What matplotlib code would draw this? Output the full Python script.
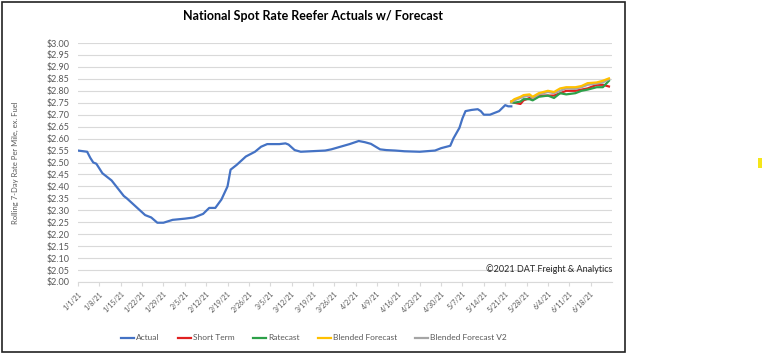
import pandas as pd
import matplotlib
matplotlib.use('Agg')
import matplotlib.pyplot as plt
from matplotlib.patches import Rectangle

# actual rolling 7-day reefer rate
actual_dates = ['2021-01-01', '2021-01-04', '2021-01-05', '2021-01-06', '2021-01-07', '2021-01-09',
                '2021-01-12', '2021-01-16', '2021-01-17', '2021-01-23', '2021-01-25', '2021-01-27',
                '2021-01-29', '2021-02-01', '2021-02-05', '2021-02-08', '2021-02-11', '2021-02-13',
                '2021-02-15', '2021-02-17', '2021-02-19', '2021-02-20', '2021-02-22', '2021-02-25',
                '2021-02-28', '2021-03-02', '2021-03-04', '2021-03-08', '2021-03-10', '2021-03-11',
                '2021-03-13', '2021-03-15', '2021-03-23', '2021-03-25', '2021-03-31', '2021-04-03',
                '2021-04-05', '2021-04-07', '2021-04-10', '2021-04-12', '2021-04-15', '2021-04-18',
                '2021-04-23', '2021-04-26', '2021-04-28', '2021-04-30', '2021-05-03', '2021-05-04',
                '2021-05-06', '2021-05-07', '2021-05-08', '2021-05-10', '2021-05-12', '2021-05-13',
                '2021-05-14', '2021-05-16', '2021-05-18', '2021-05-19', '2021-05-21', '2021-05-22',
                '2021-05-23']
actual = [2.55, 2.545, 2.52, 2.50, 2.495, 2.455,
          2.425, 2.36, 2.35, 2.28, 2.27, 2.248,
          2.248, 2.26, 2.265, 2.27, 2.285, 2.31,
          2.31, 2.345, 2.40, 2.47, 2.49, 2.525,
          2.545, 2.566, 2.577, 2.577, 2.58, 2.575,
          2.552, 2.545, 2.55, 2.555, 2.577, 2.59,
          2.585, 2.578, 2.555, 2.552, 2.55, 2.547,
          2.545, 2.548, 2.55, 2.56, 2.57, 2.60,
          2.645, 2.685, 2.715, 2.72, 2.723, 2.715,
          2.70, 2.70, 2.71, 2.715, 2.74, 2.735,
          2.735]

# forecasts
fc_dates = ['2021-05-23', '2021-05-24', '2021-05-26', '2021-05-27', '2021-05-29', '2021-05-30',
            '2021-06-01', '2021-06-04', '2021-06-06', '2021-06-08', '2021-06-10', '2021-06-13',
            '2021-06-15', '2021-06-17', '2021-06-20', '2021-06-22', '2021-06-24']
short_term = [2.755, 2.75, 2.745, 2.76, 2.77, 2.765,
              2.78, 2.78, 2.78, 2.79, 2.80, 2.80,
              2.805, 2.81, 2.825, 2.825, 2.818]
ratecast = [2.752, 2.75, 2.755, 2.765, 2.765, 2.76,
            2.775, 2.78, 2.77, 2.79, 2.785, 2.79,
            2.80, 2.805, 2.815, 2.815, 2.842]
blended = [2.755, 2.765, 2.775, 2.782, 2.785, 2.775,
           2.79, 2.80, 2.795, 2.81, 2.815, 2.815,
           2.82, 2.832, 2.835, 2.842, 2.852]
blended_v2 = [2.752, 2.76, 2.77, 2.775, 2.78, 2.77,
              2.785, 2.795, 2.79, 2.80, 2.81, 2.808,
              2.815, 2.825, 2.83, 2.835, 2.848]

actual_dates = pd.to_datetime(actual_dates)
fc_dates = pd.to_datetime(fc_dates)
tick_dates = pd.date_range('2021-01-01', '2021-06-18', freq='7D')
tick_labels = [f'{d.month}/{d.day}/{d.year % 100}' for d in tick_dates]

plt.rcParams['font.family'] = ['Lato', 'DejaVu Sans']

fig = plt.figure(figsize=(7.64, 3.55), dpi=100)
ax = fig.add_axes([78 / 764, 1 - 282 / 355, (612 - 78) / 764, (282 - 43) / 355])

grid_c = '#d9d9d9'
text_c = '#595959'

ax.plot(actual_dates, actual, color='#4472c4', lw=1.6, label='Actual')
ax.plot(fc_dates, short_term, color='#e02020', lw=1.6, label='Short Term')
ax.plot(fc_dates, ratecast, color='#2ca048', lw=1.6, label='Ratecast')
ax.plot(fc_dates, blended_v2, color='#a5a5a5', lw=1.6, label='Blended Forecast V2')
ax.plot(fc_dates, blended, color='#ffc000', lw=1.6, label='Blended Forecast')

ax.set_xlim(pd.Timestamp('2021-01-01'), pd.Timestamp('2021-06-25'))
ax.set_ylim(2.0, 3.0)
ax.set_yticks([2.0 + 0.05 * i for i in range(21)])
ax.yaxis.set_major_formatter(plt.FuncFormatter(lambda v, p: f'${v:.2f}'))
ax.set_xticks(tick_dates)
ax.set_xticklabels(tick_labels, rotation=45, ha='right', rotation_mode='anchor')

ax.grid(axis='y', color=grid_c, lw=0.8)
ax.set_axisbelow(True)
for s in ['left', 'right', 'top']:
    ax.spines[s].set_visible(False)
ax.spines['bottom'].set_color(grid_c)
ax.tick_params(axis='y', length=0, labelsize=6.5, labelcolor=text_c, pad=6)
ax.tick_params(axis='x', length=3, color=grid_c, labelsize=5, labelcolor=text_c, pad=3)

ax.set_ylabel('Rolling 7-Day Rate Per Mile, ex. Fuel', fontsize=5.5, color=text_c, labelpad=20)

ax.text(1.0, 0.055, '\u00a92021 DAT Freight & Analytics', transform=ax.transAxes,
        ha='right', va='center', fontsize=6.5, color='#262626')

fig.text(313 / 764, 1 - 16 / 355, 'National Spot Rate Reefer Actuals w/ Forecast',
         ha='center', va='center', fontsize=9, fontweight='bold', color='#000000')

handles, labels = ax.get_legend_handles_labels()
order = [0, 1, 2, 4, 3]
fig.legend([handles[i] for i in order], [labels[i] for i in order],
           loc='center', bbox_to_anchor=(314 / 764, 1 - 338 / 355), ncol=5, frameon=False,
           fontsize=6, labelcolor=text_c, handlelength=1.6, handletextpad=0.2, columnspacing=2.2)

# chart border and the stray yellow mark on the right
fig.patches.append(Rectangle((2 / 764, 3 / 355), 623 / 764, 350 / 355, transform=fig.transFigure,
                             fill=False, edgecolor='#222222', lw=1.2))
fig.patches.append(Rectangle((758 / 764, 1 - 168 / 355), 4 / 764, 10 / 355, transform=fig.transFigure,
                             facecolor='#f5e61a', edgecolor='none'))

fig.savefig('out.png', dpi=100)
